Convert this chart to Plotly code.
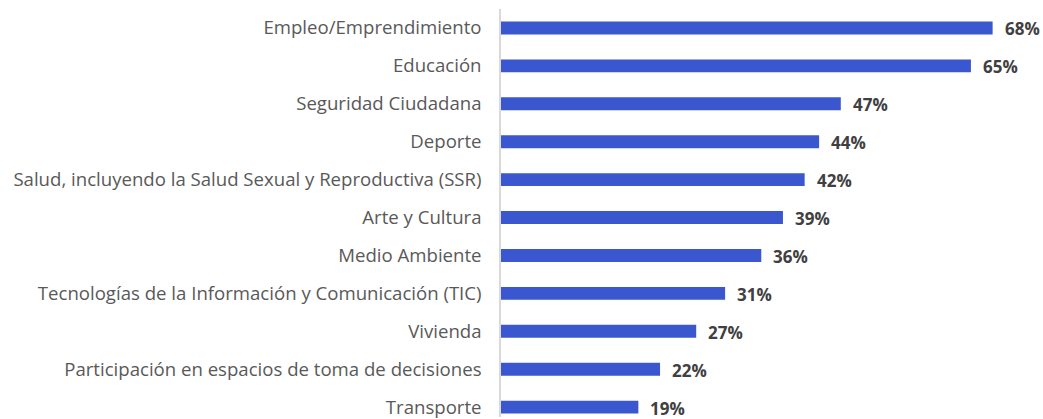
import plotly.graph_objects as go

categories = [
    "Transporte",
    "Participación en espacios de toma de decisiones",
    "Vivienda",
    "Tecnologías de la Información y Comunicación (TIC)",
    "Medio Ambiente",
    "Arte y Cultura",
    "Salud, incluyendo la Salud Sexual y Reproductiva (SSR)",
    "Deporte",
    "Seguridad Ciudadana",
    "Educación",
    "Empleo/Emprendimiento",
]
values = [19, 22, 27, 31, 36, 39, 42, 44, 47, 65, 68]
value_labels = [f"{v}%" for v in values]

BAR = "#3A57D0"

fig = go.Figure()
fig.add_trace(go.Bar(
    x=values, y=categories, orientation="h",
    marker=dict(color=BAR, line=dict(width=0)),
    width=0.34,
    hoverinfo="skip",
))
for c, v, t in zip(categories, values, value_labels):
    fig.add_annotation(
        x=v, y=c, text=f"<b>{t}</b>", showarrow=False,
        xanchor="left", yanchor="middle", xshift=10, yshift=-1,
        font=dict(family="Open Sans", size=17, color="#404040"),
    )

fig.update_layout(
    width=1043, height=419,
    margin=dict(l=501, r=7, t=9, b=0),
    paper_bgcolor="white", plot_bgcolor="white",
    showlegend=False,
    xaxis=dict(range=[0, 74], showgrid=False, zeroline=False,
               showticklabels=False, showline=False, fixedrange=True),
    yaxis=dict(range=[-0.26, 10.5], showgrid=False, zeroline=False,
               showline=True, linecolor="#D9D9D9", linewidth=1.5,
               ticks="", ticklabelstandoff=14,
               tickfont=dict(family="Open Sans", size=18.6, color="#595959")),
)

fig.write_html("out.html")
